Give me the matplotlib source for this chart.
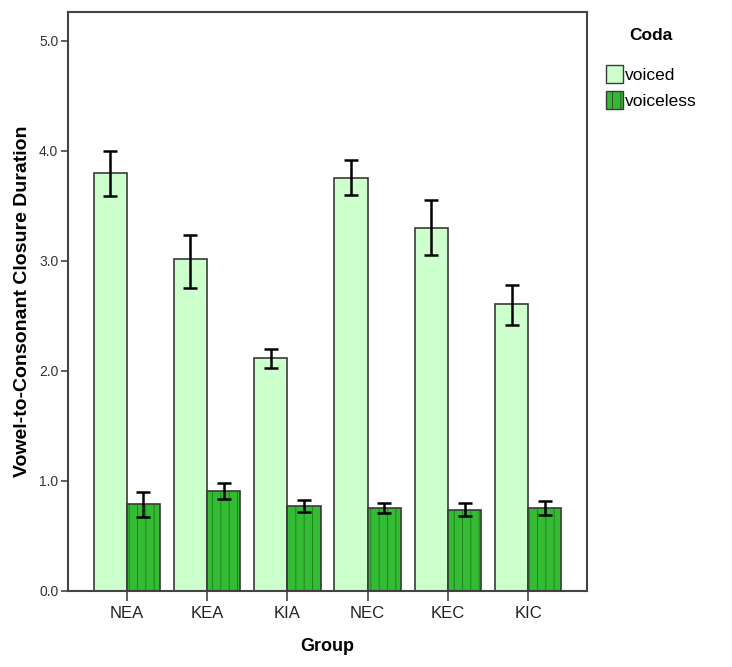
import matplotlib
matplotlib.use("Agg")
import matplotlib.pyplot as plt
import numpy as np
from matplotlib.patches import Patch
from matplotlib.ticker import FormatStrFormatter

groups = ["NEA", "KEA", "KIA", "NEC", "KEC", "KIC"]
voiced = [3.80, 3.02, 2.12, 3.75, 3.30, 2.61]
voiced_lo = [3.59, 2.75, 2.03, 3.60, 3.05, 2.42]
voiced_hi = [4.00, 3.23, 2.20, 3.92, 3.55, 2.78]
voiceless = [0.79, 0.91, 0.77, 0.75, 0.74, 0.755]
voiceless_lo = [0.67, 0.84, 0.72, 0.71, 0.68, 0.69]
voiceless_hi = [0.90, 0.98, 0.83, 0.80, 0.80, 0.82]

plt.rcParams['font.family'] = ['Liberation Sans', 'DejaVu Sans']
plt.rcParams['hatch.linewidth'] = 0.6

light = "#ccffcc"
dark = "#33bb33"
edge = "#3a3a3a"

fig = plt.figure(figsize=(7.32, 6.67), dpi=100)
ax = fig.add_axes([68/732, 1-591/667, (587-68)/732, (591-12)/667])

x = np.arange(len(groups))
w = 0.415

ax.bar(x - w/2, voiced, w, color=light, edgecolor=edge, linewidth=1.2, zorder=2)
ax.bar(x + w/2, voiceless, w, color=dark, edgecolor="#1d7a1d", hatch="||",
       linewidth=0, zorder=2)
ax.bar(x + w/2, voiceless, w, fill=False, edgecolor=edge, linewidth=1.2, zorder=3)

def draw_err(xs, mid, lo, hi):
    lo = np.array(lo); hi = np.array(hi); mid = np.array(mid)
    ax.errorbar(xs, mid, yerr=[mid - lo, hi - mid], fmt="none", ecolor="black",
                elinewidth=1.8, capsize=5, capthick=1.8, zorder=4)

draw_err(x - w/2, voiced, voiced_lo, voiced_hi)
draw_err(x + w/2, voiceless, voiceless_lo, voiceless_hi)

ax.set_xlim(-0.733, 5.733)
ax.set_ylim(0, 5.26)
ax.set_yticks([0, 1, 2, 3, 4, 5])
ax.yaxis.set_major_formatter(FormatStrFormatter("%.1f"))
ax.set_xticks(x)
ax.set_xticklabels(groups)

for s in ax.spines.values():
    s.set_color("#444444")
    s.set_linewidth(1.5)
ax.tick_params(axis="y", length=5, width=1.2, color="#444444", labelsize=10,
               labelcolor="#333333", pad=2)
ax.tick_params(axis="x", length=7, width=1.2, color="#444444", labelsize=12,
               labelcolor="#222222", pad=4)

ax.set_ylabel("Vowel-to-Consonant Closure Duration", fontsize=14, fontweight="bold",
              labelpad=6)
ax.set_xlabel("Group", fontsize=13, fontweight="bold", labelpad=12)

handles = [Patch(facecolor=light, edgecolor=edge, linewidth=1),
           Patch(facecolor=dark, edgecolor=edge, hatch="||", linewidth=1)]
leg = fig.legend(handles, ["voiced", "voiceless"], title="Coda",
                 loc="upper left", bbox_to_anchor=(590/732, 1-12/667),
                 frameon=False, fontsize=12.5, handlelength=1.0, handleheight=1.2,
                 handletextpad=0.1, labelspacing=0.5)
leg.get_title().set_fontweight("bold")
leg.get_title().set_fontsize(12.5)
leg._legend_box.sep = 16

fig.savefig("out.png", dpi=100)
